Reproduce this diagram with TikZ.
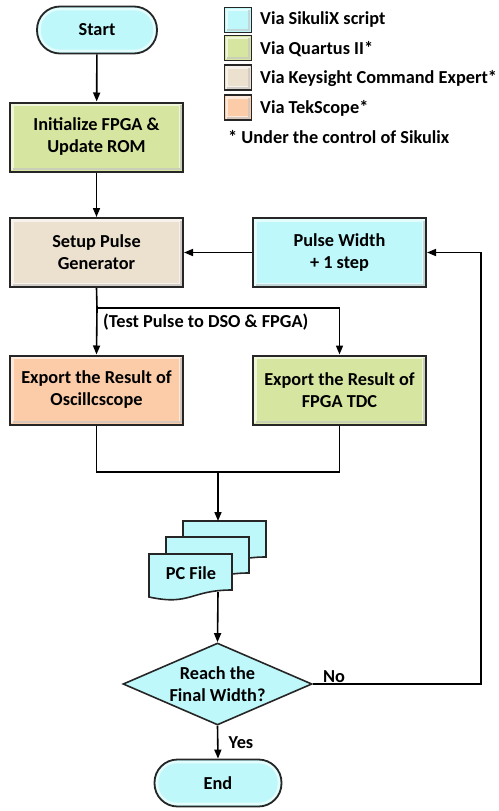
\documentclass[tikz,border=0pt]{standalone}
\usepackage{fontspec}
\setmainfont{Carlito}
\usetikzlibrary{arrows.meta,shapes.geometric,calc}

\definecolor{edge}{HTML}{262626}
\definecolor{cyanf}{HTML}{BFF8FA}
\definecolor{greenf}{HTML}{D6E6A0}
\definecolor{beigef}{HTML}{ECE0CE}
\definecolor{salmonf}{HTML}{FCCCA8}

\tikzset{
  bevel/.style={path picture={
    \draw[white, opacity=.6, line width=2.4pt, rounded corners=#1]
      ([shift={(2.6pt,-2.6pt)}]path picture bounding box.north west)
      rectangle ([shift={(-2.6pt,2.6pt)}]path picture bounding box.south east);
    \draw[black, opacity=.15, line width=1.8pt]
      ([shift={(2.6pt,2.2pt)}]path picture bounding box.south west)
      -- ([shift={(-2.2pt,2.2pt)}]path picture bounding box.south east)
      -- ([shift={(-2.2pt,-2.6pt)}]path picture bounding box.north east);
  }},
  procbox/.style={draw=edge, line width=2pt, fill=#1, minimum width=173pt,
    minimum height=69pt, align=center, inner sep=0pt, bevel=0pt},
  termbox/.style={draw=edge, line width=1.8pt, fill=cyanf, rounded corners=23pt,
    minimum width=#1, minimum height=47pt, inner sep=0pt,
    path picture={\draw[white, opacity=.6, line width=2.4pt, rounded corners=20pt]
      ([shift={(2.6pt,-2.6pt)}]path picture bounding box.north west)
      rectangle ([shift={(-2.6pt,2.6pt)}]path picture bounding box.south east);}},
  keybox/.style={draw=edge, line width=1.8pt, fill=#1, minimum width=27pt,
    minimum height=25pt, inner sep=0pt, bevel=0pt},
  sheet/.style={draw=edge, line width=1.6pt, fill=cyanf},
  decision/.style={diamond, draw=edge, line width=1.6pt, fill=cyanf,
    minimum width=189pt, minimum height=82pt, aspect=2.3, inner sep=0pt, align=center},
  flow/.style={draw=black, line width=1.6pt, -{Triangle[length=9pt,width=7pt]}},
  wire/.style={draw=black, line width=1.6pt},
  keytext/.style={anchor=west, inner sep=0pt},
}

\begin{document}
\begin{tikzpicture}[x=1pt, y=-1pt, font=\bfseries\fontsize{18.3}{22}\selectfont]
\useasboundingbox (0,0) rectangle (498,811);

% main flow boxes
\node[termbox=120pt] (start) at (97,30) {Start};
\node[procbox=greenf] (init) at (96.5,137) {Initialize FPGA \&\\Update ROM};
\node[procbox=beigef] (setup) at (96.5,252.5) {Setup Pulse\\Generator};
\node[procbox=cyanf] (pulse) at (339.5,252.5) {Pulse Width\\+ 1 step};
\node[procbox=salmonf] (osc) at (96.5,390) {Export the Result of\\Oscillcscope};
\node[procbox=greenf] (fpga) at (339.5,390) {Export the Result of\\FPGA TDC};

% stacked PC files
\foreach \x/\y in {183/521, 166/537, 149/554}
  \draw[sheet] (\x,\y) -- (\x+83,\y) -- (\x+83,\y+36)
    .. controls (\x+41.5,\y+36) and (\x+41.5,\y+52) .. (\x,\y+43) -- cycle;
\node (pc) at (191,573) {PC File};
\coordinate (pctop) at (218,521);
\coordinate (pcbot) at (218,592);

\node[decision] (dec) at (217.5,684) {Reach the\\Final Width?};
\node[termbox=127pt] (endn) at (218,783) {End};

% legend
\node[keybox=cyanf]   (k1) at (238,20) {};
\node[keybox=greenf]  (k2) at (238,48) {};
\node[keybox=beigef]  (k3) at (238,77.5) {};
\node[keybox=salmonf] (k4) at (238,107.5) {};
\node[keytext] (t1) at (260,20) {Via SikuliX script};
\node[keytext] (t2) at (260,49) {Via Quartus II*};
\node[keytext] (t3) at (260,79) {Via Keysight Command Expert*};
\node[keytext] (t4) at (260,108) {Via TekScope*};
\node[keytext] (t5) at (228,137) {* Under the control of Sikulix};

% connectors
\coordinate (split) at (97,308);
\coordinate (merge) at (218,472);
\coordinate (rc) at (481,684);

\draw[flow] (start) -- (init);
\draw[flow] (init) -- (setup);
\draw[flow] (pulse.west) -- (setup.east);
\draw[wire] (setup.south) -- (split);
\draw[flow] (split) -- (osc.north);
\draw[flow] (split) -| (fpga.north);
\node[anchor=west, inner sep=0pt] (tp) at (103,322) {(Test Pulse to DSO \& FPGA)};
\draw[wire] (osc.south) |- (merge);
\draw[wire] (fpga.south) |- (merge);
\draw[flow] (merge) -- (pctop);
\draw[flow] (pcbot) -- (dec.north);
\draw[flow] (dec.east) -- (rc) |- (pulse.east);
\node (no) at (334,677) {No};
\draw[flow] (dec.south) -- (endn.north);
\node (yes) at (241,743) {Yes};
\end{tikzpicture}
\end{document}
